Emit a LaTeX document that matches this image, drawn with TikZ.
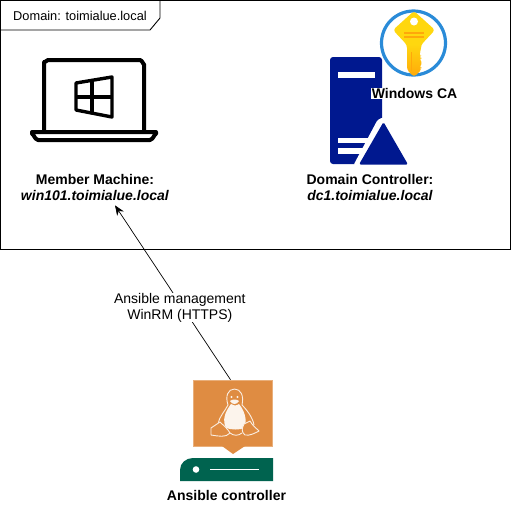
\documentclass[tikz,border=0pt]{standalone}
\usepackage{fontspec}
\setmainfont{Liberation Sans}
\usetikzlibrary{%
  arrows.meta,
  calc
}
\definecolor{serverblue}{HTML}{00188F}
\definecolor{linuxorange}{HTML}{DF8C42}
\definecolor{hostgreen}{HTML}{00634F}
\definecolor{ringblue}{HTML}{2A8BD8}
\definecolor{keygold}{HTML}{FFD70F}
\definecolor{keydark}{HTML}{FFA80A}
\tikzset{
  labeltext/.style={font=\fontsize{14}{16}\selectfont\bfseries, align=center, inner sep=0pt},
  icon/.style={line width=4pt, line join=round},
  penguin/.style={draw=white!85!linuxorange, line width=0.9pt, line join=round}
}

\begin{document}
\begin{tikzpicture}[x=1pt, y=-1pt]
    \useasboundingbox (0,0) rectangle (511,504);

    % domain frame
    \draw[line width=0.9pt] (0.5,0.5) rectangle (510.5,249.5);
    \draw[line width=0.9pt] (0.5,30) -- (150,30) -- (160,18) -- (160,0.5);
    \node[font=\fontsize{12.8}{14}\selectfont, inner sep=0pt] (domain) at (80,15.5) {Domain: toimialue.local};

    % laptop
    \draw[icon] (44,131) -- (44,62) to[out=-90, in=180] (48,60) -- (140,60) to[out=0, in=-90] (144,64) -- (144,131);
    \draw[icon] (32,132) -- (156,132) -- (156,134) to[out=90, in=0] (150,140) -- (38,140) to[out=180, in=90] (32,134) -- cycle;
    \draw[line width=3.4pt, line join=round] (76,83) -- (112,77) -- (112,117) -- (76,110) -- cycle;
    \draw[line width=3.4pt] (92,80) -- (92,114);
    \draw[line width=3.4pt] (76,97) -- (112,97);

    \node[labeltext] (member) at (95,187) {Member Machine:\\\textit{win101.toimialue.local}};

    % server
    \fill[serverblue, rounded corners=3pt] (330,164) -- (330,57) -- (382,57) -- (382,164) -- cycle;
    \fill[white] (338,72) rectangle (375,78);
    \fill[white] (338,138) rectangle (368,143);
    \fill[white] (338,148) rectangle (368,154);
    \fill[white, rounded corners=3pt] (353,166) -- (378,119) -- (386,117) -- (412,166) -- cycle;
    \fill[serverblue, rounded corners=1.5pt] (359,164.5) -- (383.5,122) -- (408,164.5) -- cycle;

    % key
    \draw[ringblue, line width=3.2pt] (413.5,43) circle (32);
    \shade[top color=keygold, bottom color=keydark, middle color=keygold, rounded corners=3pt]
      (414,11) -- (435,30) -- (421,45) -- (421,51) -- (418.5,54) -- (422,57) -- (419,60) -- (423,63) -- (419,66) -- (422,69)
      -- (414,77) -- (407,70) -- (407,45) -- (393,30) -- cycle;
    \fill[white] (414,21.5) circle (4);
    \fill[keydark] (404,32) rectangle (424,34);
    \fill[keydark] (404,36) rectangle (424,38);
    \draw[keydark, line width=0.9pt] (411,52) -- (411,71);

    \node[labeltext, fill=white, inner xsep=0.5pt] (ca) at (414.5,93.5) {Windows CA};
    \node[labeltext] (dc) at (370,187) {Domain Controller:\\\textit{dc1.toimialue.local}};

    % linux box
    \node[fill=linuxorange, draw=linuxorange!70!white, line width=0.6pt, minimum width=79pt, minimum height=66pt, inner sep=0pt] (linux) at (233,413) {};
    \fill[linuxorange] (222,446) -- (233,454) -- (245,446) -- cycle;

    % penguin
    \draw[penguin] (228,405) .. controls (225,396) and (228,389) .. (234.5,389) .. controls (241,389) and (244,396) .. (242,405)
      .. controls (247,410) and (253,418) .. (254,425);
    \draw[penguin] (228,405) .. controls (225,411) and (219,417) .. (218,424);
    \fill[white!90!linuxorange] (231,404) .. controls (225,412) and (222,420) .. (226,428) .. controls (232,430) and (240,430) .. (244,428)
      .. controls (248,420) and (244,410) .. (239,404) .. controls (236,406) and (233,406) .. (231,404) -- cycle;
    \fill[white!90!linuxorange] (230,401) .. controls (232,399) and (237,399) .. (239,401) .. controls (237,405) and (232,405) .. (230,401) -- cycle;
    \fill[white!90!linuxorange] (231.5,397) circle (1.2);
    \fill[white!90!linuxorange] (237.5,397) circle (1.2);
    \draw[penguin, fill=linuxorange] (211,428) -- (220,422) .. controls (223,425) and (228,429) .. (230,433) .. controls (226,438) and (218,436) .. (211,435) -- cycle;
    \draw[penguin, fill=linuxorange] (244,424) -- (250,421) .. controls (252,425) and (256,428) .. (259,431) .. controls (255,433) and (250,436) .. (245,435) .. controls (241,432) and (242,428) .. (244,424) -- cycle;
    \draw[penguin] (230,433) .. controls (234,436) and (238,436) .. (242,433);

    % controller host
    \fill[hostgreen] (180,481) -- (180,470) .. controls (180,463) and (186,458) .. (193,458) -- (273,458) -- (273,481) -- cycle;
    \fill[white] (196,469.5) circle (3.3);
    \draw[white, line width=1pt] (210,469.5) -- (259,469.5);

    \node[labeltext] (controller) at (226.5,495) {Ansible controller};

    % management link
    \draw[-{Stealth[length=10pt, width=8pt]}, line width=0.7pt] ($(linux.north)+(-2.5,0)$) -- ($(member.south)+(20,5)$)
      node[pos=0.43, xshift=-1pt, yshift=-3pt, fill=white, font=\fontsize{14}{15.5}\selectfont, align=center, inner ysep=0pt, inner xsep=1pt] (mgmt) {Ansible management\\WinRM (HTTPS)};
\end{tikzpicture}
\end{document}
